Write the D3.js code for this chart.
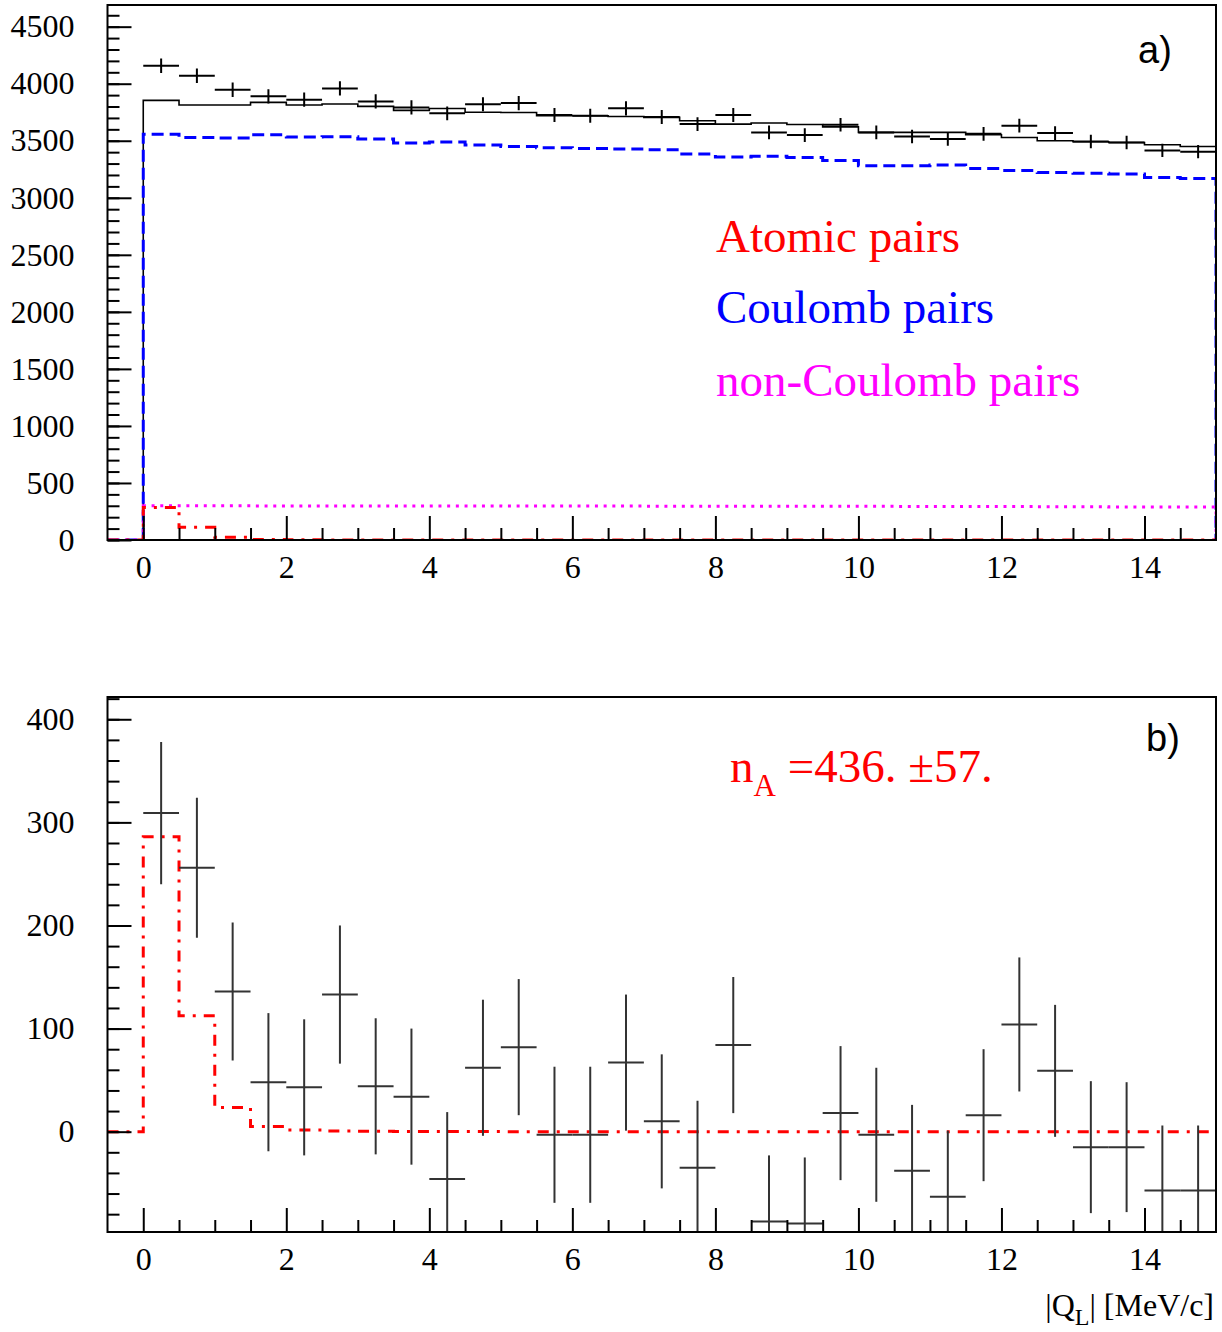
<!DOCTYPE html>
<html><head><meta charset="utf-8">
<script src="https://cdn.jsdelivr.net/npm/d3@7"></script>
<style>body{margin:0;background:#fff}</style>
</head><body>
<svg id="c" width="1222" height="1332" xmlns="http://www.w3.org/2000/svg"></svg>
<script>
// ---------- data ----------
const binEdges = [0,0.5,1,1.5,2,2.5,3,3.5,4,4.5,5,5.5,6,6.5,7,7.5,8,8.5,9,9.5,10,10.5,11,11.5,12,12.5,13,13.5,14,14.5,15];
const xTickLabels = [0,2,4,6,8,10,12,14];
const yTopTickLabels = [0,500,1000,1500,2000,2500,3000,3500,4000,4500];
const yBotTickLabels = [0,100,200,300,400];

// panel a) measured pairs (points) and errors
const dataTop = [4158,4070,3947,3889,3860,3959,3845,3792,3740,3820,3830,3725,3719,3784,3708,3646,3725,3573,3550,3640,3573,3538,3515,3561,3632,3567,3494,3485,3415,3404];
const errTop  = [64,64,63,62,62,63,62,62,61,62,62,61,61,62,61,60,61,60,60,60,60,59,59,60,60,60,59,59,58,58];
// background sum (solid black)
const totalBg = [3854,3813,3813,3836,3813,3822,3801,3766,3783,3750,3748,3719,3719,3713,3705,3675,3646,3655,3643,3622,3573,3573,3573,3553,3529,3500,3491,3485,3465,3450];
// Coulomb pairs (blue dashed)
const coulomb = [3558,3529,3523,3553,3532,3535,3515,3480,3488,3463,3450,3439,3433,3427,3421,3383,3357,3363,3354,3327,3281,3281,3287,3257,3240,3222,3216,3208,3178,3170];
// non-Coulomb pairs (magenta dotted)
const nonCoulomb = [300,300,300,299,299,299,298,298,298,298,297,297,297,297,296,296,296,295,295,295,295,294,294,294,294,291,291,289,289,289];
// atomic pairs (red dash-dot)
const atomic = [286,112.5,23.5,5,1.6,0.6,0.3,0.2,0.1,0.1,0,0,0,0,0,0,0,0,0,0,0,0,0,0,0,0,0,0,0,0];

// panel b) residuals
const resid = [309,256,136,48,43,133,44,34,-46,62,82,-3,-3,67,10,-35,84,-87,-89,18,-3,-38,-63,16,104,59,-15,-15,-57,-57];
const residErr = [69,68,67,67,66,67,66,66,65,66,66,66,66,66,65,65,66,64,64,65,65,64,64,64,65,64,64,63,63,63];

// ---------- layout ----------
const svg = d3.select("#c");
const L = 107.5, R = 1216;
const x = d3.scaleLinear().domain([-0.5, 15]).range([L, R]);
const yTop = d3.scaleLinear().domain([0, 4690]).range([540, 5]);
const yBot = d3.scaleLinear().domain([-97.3, 421.6]).range([1232, 697]);
const SERIF = "'Liberation Serif','Times New Roman',serif";
const SANS = "'Liberation Sans',Arial,sans-serif";

const defs = svg.append("defs");
function clip(id, y) {
  defs.append("clipPath").attr("id", id).append("rect")
    .attr("x", L).attr("y", y.range()[1]).attr("width", R - L).attr("height", y.range()[0] - y.range()[1]);
}
clip("clipA", yTop); clip("clipB", yBot);

function stepPts(vals, closeRight) {
  const pts = [[-0.5, 0], [0, 0]];
  vals.forEach((v, i) => { pts.push([binEdges[i], v]); pts.push([binEdges[i + 1], v]); });
  if (closeRight) pts.push([15, 0]);
  return pts;
}
function drawStep(g, vals, y, style, closeRight) {
  const line = d3.line().x(d => x(d[0])).y(d => y(d[1]));
  const p = g.append("path").attr("d", line(stepPts(vals, closeRight))).attr("fill", "none");
  Object.entries(style).forEach(([k, v]) => p.attr(k, v));
}
function drawCrosses(g, vals, errs, y, color) {
  const idx = d3.range(vals.length);
  g.selectAll(null).data(idx).enter().append("line")
    .attr("x1", i => x(binEdges[i])).attr("x2", i => x(binEdges[i + 1]))
    .attr("y1", i => y(vals[i])).attr("y2", i => y(vals[i]))
    .attr("stroke", color).attr("stroke-width", 2);
  g.selectAll(null).data(idx).enter().append("line")
    .attr("x1", i => x((binEdges[i] + binEdges[i + 1]) / 2)).attr("x2", i => x((binEdges[i] + binEdges[i + 1]) / 2))
    .attr("y1", i => y(vals[i] - errs[i])).attr("y2", i => y(vals[i] + errs[i]))
    .attr("stroke", color).attr("stroke-width", 2);
}
function axes(y, majorVals, minorStep, yMinorDomain) {
  const [y0, y1] = y.range();
  // x axis at bottom, ticks inward
  const gx = svg.append("g").attr("transform", `translate(0,${y0})`);
  gx.call(d3.axisBottom(x).tickValues(d3.range(-0.5, 15.01, 0.5).filter(v => v > -0.5 && v < 15 && v % 2 !== 0)).tickSize(-12).tickFormat(""));
  gx.call(g => g.select(".domain").remove());
  const gx2 = svg.append("g").attr("transform", `translate(0,${y0})`);
  gx2.call(d3.axisBottom(x).tickValues(xTickLabels).tickSize(-24).tickPadding(15).tickFormat(d3.format("d")));
  gx2.call(g => g.select(".domain").remove());
  gx2.selectAll("text").attr("font-family", SERIF).attr("font-size", 32).attr("fill", "#000");
  [gx, gx2].forEach(g => g.selectAll("line").attr("stroke", "#000").attr("stroke-width", 2));
  // y axis
  const gy = svg.append("g").attr("transform", `translate(${L},0)`);
  gy.call(d3.axisLeft(y).tickValues(d3.range(yMinorDomain[0], yMinorDomain[1], minorStep)).tickSize(-12).tickFormat(""));
  gy.call(g => g.select(".domain").remove());
  const gy2 = svg.append("g").attr("transform", `translate(${L},0)`);
  gy2.call(d3.axisLeft(y).tickValues(majorVals).tickSize(-24).tickPadding(33).tickFormat(d3.format("d")));
  gy2.call(g => g.select(".domain").remove());
  gy2.selectAll("text").attr("font-family", SERIF).attr("font-size", 32).attr("fill", "#000");
  [gy, gy2].forEach(g => g.selectAll("line").attr("stroke", "#000").attr("stroke-width", 2));
  // frame
  svg.append("rect").attr("x", L).attr("y", y1).attr("width", R - L).attr("height", y0 - y1)
    .attr("fill", "none").attr("stroke", "#000").attr("stroke-width", 2);
}

// ---------- panel a ----------
const gA = svg.append("g").attr("clip-path", "url(#clipA)");
drawStep(gA, totalBg, yTop, {stroke: "#000", "stroke-width": 1.6}, true);
drawStep(gA, coulomb, yTop, {stroke: "#0000ff", "stroke-width": 3, "stroke-dasharray": "12,6"}, true);
drawStep(gA, nonCoulomb, yTop, {stroke: "#ff00ff", "stroke-width": 3, "stroke-dasharray": "3,5.7"}, true);
drawStep(gA, atomic, yTop, {stroke: "#ff0000", "stroke-width": 3, "stroke-dasharray": "11,8,3,8"}, false);
drawCrosses(gA, dataTop, errTop, yTop, "#000");
axes(yTop, yTopTickLabels, 100, [0, 4690]);

svg.append("text").attr("x", 1138).attr("y", 63).attr("font-family", SANS).attr("font-size", 38).text("a)");
const legend = [
  {t: "Atomic pairs", c: "#ff0000", y: 252},
  {t: "Coulomb pairs", c: "#0000ff", y: 323},
  {t: "non-Coulomb pairs", c: "#ff00ff", y: 396}
];
svg.selectAll(null).data(legend).enter().append("text")
  .attr("x", 716).attr("y", d => d.y).attr("fill", d => d.c)
  .attr("font-family", SERIF).attr("font-size", 47).text(d => d.t);

// ---------- panel b ----------
const gB = svg.append("g").attr("clip-path", "url(#clipB)");
drawStep(gB, atomic, yBot, {stroke: "#ff0000", "stroke-width": 3, "stroke-dasharray": "11,8,3,8"}, false);
drawCrosses(gB, resid, residErr, yBot, "#333");
axes(yBot, yBotTickLabels, 20, [-80, 421]);

svg.append("text").attr("x", 1146).attr("y", 751).attr("font-family", SANS).attr("font-size", 38).text("b)");
const nA = svg.append("text").attr("x", 730).attr("y", 782).attr("fill", "#ff0000")
  .attr("font-family", SERIF).attr("font-size", 47);
nA.append("tspan").text("n");
nA.append("tspan").attr("font-size", 31).attr("dy", 14).text("A");
nA.append("tspan").attr("dy", -14).text(" =436. ±57.");

const xt = svg.append("text").attr("x", 1214).attr("y", 1316).attr("text-anchor", "end")
  .attr("font-family", SERIF).attr("font-size", 32);
xt.append("tspan").text("|Q");
xt.append("tspan").attr("font-size", 24).attr("dy", 9).text("L");
xt.append("tspan").attr("dy", -9).text("| [MeV/c]");
</script>
</body></html>
